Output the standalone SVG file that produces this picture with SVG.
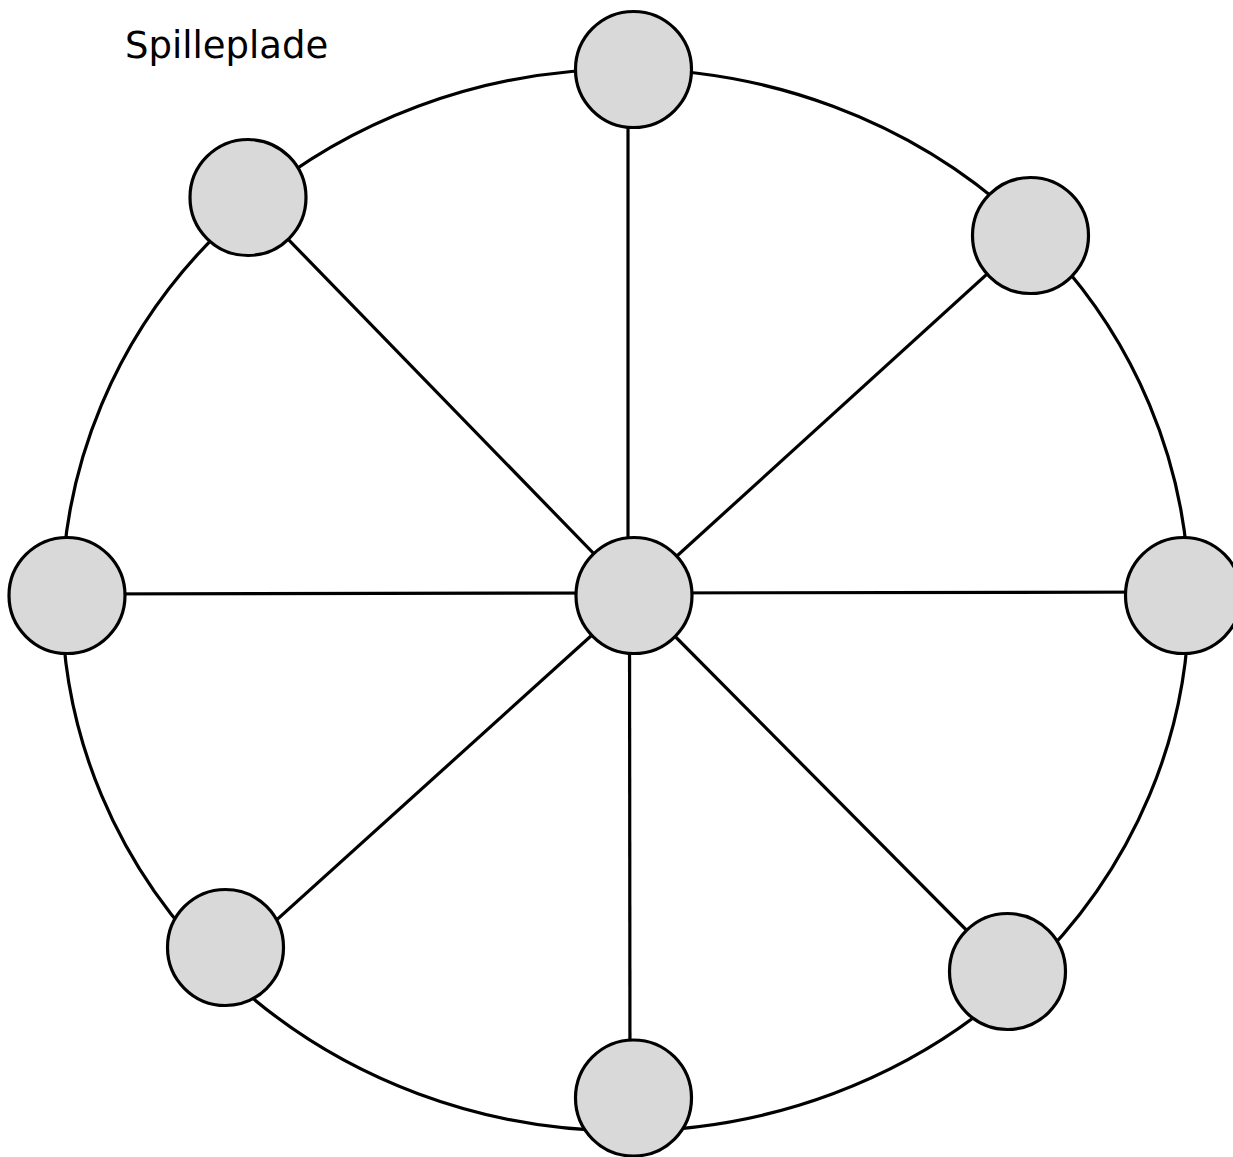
<svg xmlns="http://www.w3.org/2000/svg" width="1233" height="1157" viewBox="0 0 1233 1157">
<style>
.ring{fill:none;stroke:#000;stroke-width:3.2}
.edge{stroke:#000;stroke-width:3.2;fill:none}
.node{fill:#d9d9d9;stroke:#000;stroke-width:3.2}
.lbl{font-family:"DejaVu Sans",Verdana,sans-serif;font-size:37px;fill:#000}
</style>
<rect width="1233" height="1157" fill="#fff"/>
<text class="lbl" x="125" y="58">Spilleplade</text>
<g id="connectors">
<ellipse class="ring" cx="625.5" cy="600" rx="563.5" ry="531"/>
<line class="edge" x1="628" y1="69" x2="628" y2="595"/>
<line class="edge" x1="629.5" y1="595" x2="630" y2="1098"/>
<line class="edge" x1="67" y1="594" x2="634" y2="593"/>
<line class="edge" x1="634" y1="593" x2="1183" y2="592"/>
<line class="edge" x1="248" y1="198" x2="634" y2="595"/>
<line class="edge" x1="1030" y1="235" x2="634" y2="595"/>
<line class="edge" x1="250" y1="944" x2="612" y2="617"/>
<line class="edge" x1="1007" y1="971" x2="634" y2="595"/>
</g>
<g id="n-top"><circle class="node" cx="633.5" cy="69.5" r="58"/></g>
<g id="n-ul"><circle class="node" cx="248" cy="197.5" r="58"/></g>
<g id="n-ur"><circle class="node" cx="1030.5" cy="235.5" r="58"/></g>
<g id="n-left"><circle class="node" cx="67" cy="595.5" r="58"/></g>
<g id="n-center"><circle class="node" cx="634" cy="595.5" r="58"/></g>
<g id="n-right"><circle class="node" cx="1183.5" cy="595.5" r="58"/></g>
<g id="n-ll"><circle class="node" cx="225.5" cy="947.5" r="58"/></g>
<g id="n-lr"><circle class="node" cx="1007.5" cy="971.5" r="58"/></g>
<g id="n-bottom"><circle class="node" cx="633.5" cy="1098" r="58"/></g>
</svg>
